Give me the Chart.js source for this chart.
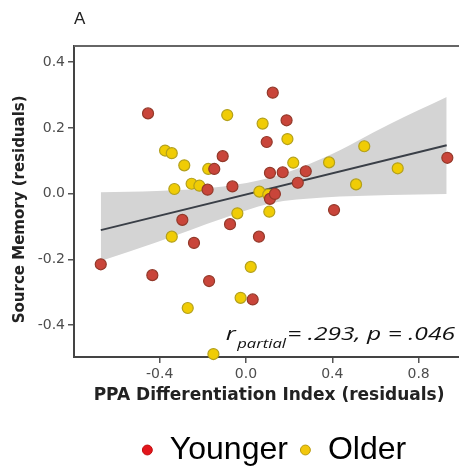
<!DOCTYPE html>
<html>
<head>
<meta charset="utf-8">
<title>Source memory vs PPA differentiation</title>
<script src="https://cdn.jsdelivr.net/npm/chart.js@4"></script>
<style>
  html, body { margin: 0; padding: 0; background: #fff; }
  canvas { display: block; }
</style>
</head>
<body>
<canvas id="chart" width="459" height="470"></canvas>
<script>
// Data (residuals)
const youngerX = [-0.673, -0.454, -0.434, -0.295, -0.241, -0.178, -0.171, -0.147, -0.108, -0.074, -0.063, 0.031,
                  0.060, 0.096, 0.111, 0.111, 0.124, 0.134, 0.170, 0.188, 0.240, 0.277, 0.408, 0.933];
const youngerY = [-0.215, 0.244, -0.248, -0.080, -0.150, 0.012, -0.266, 0.075, 0.114, -0.093, 0.022, -0.322,
                  -0.131, 0.157, 0.063, -0.016, 0.307, -0.001, 0.065, 0.223, 0.033, 0.068, -0.050, 0.109];

const olderX = [-0.375, -0.344, -0.344, -0.332, -0.286, -0.270, -0.252, -0.216, -0.175, -0.151, -0.087, -0.040,
                -0.025, 0.022, 0.062, 0.077, 0.103, 0.108, 0.192, 0.219, 0.385, 0.510, 0.548, 0.703];
const olderY = [0.131, 0.123, -0.131, 0.014, 0.086, -0.348, 0.030, 0.024, 0.075, -0.488, 0.239, -0.060,
                -0.317, -0.223, 0.006, 0.213, -0.003, -0.055, 0.166, 0.094, 0.095, 0.028, 0.144, 0.077];

// regression line and its confidence band
const fitX = [-0.673, 0.930];
const fitY = [-0.111, 0.147];
const bandX = [-0.673, -0.414, -0.105, 0.111, 0.358, 0.667, 0.930];
const bandUpper = [0.004, 0.008, 0.022, 0.048, 0.108, 0.212, 0.294];
const bandLower = [-0.205, -0.148, -0.075, -0.030, -0.012, -0.004, -0.001];

const xTicks = [-0.4, 0.0, 0.4, 0.8];
const yTicks = [-0.4, -0.2, 0.0, 0.2, 0.4];

const groupNames = ['Younger', 'Older'];
const statR = 'r';
const statSub = 'partial';
const statText = '= .293, p = .046';

const toPoints = (xs, ys) => xs.map((x, i) => ({ x: x, y: ys[i] }));

const legendFill = ['#e3151b', '#f2c70c'];
const legendStroke = ['#c01010', '#b89a10'];

// panel frame: line on top, axis runs on to the right edge (no right border)
const panelFrame = {
    id: 'panelFrame',
    afterLayout(chart) {
        // the legend sits a little right of centre in the figure
        chart.legend.left = chart.chartArea.left + 14;
        chart.legend.right = chart.width;
    },
    afterDraw(chart) {
        const { ctx, chartArea } = chart;
        ctx.save();
        ctx.lineWidth = 2;
        ctx.strokeStyle = '#666';
        ctx.beginPath();
        ctx.moveTo(chartArea.left, chartArea.top);
        ctx.lineTo(chart.width, chartArea.top);
        ctx.stroke();
        ctx.strokeStyle = '#444';
        ctx.beginPath();
        ctx.moveTo(chartArea.right, chartArea.bottom);
        ctx.lineTo(chart.width, chartArea.bottom);
        ctx.stroke();
        ctx.restore();
    }
};

// r_partial annotation, bottom right of the plot (text is a bit stretched in the figure)
const statsLabel = {
    id: 'statsLabel',
    afterDraw(chart) {
        const { ctx, chartArea } = chart;
        const sx = 1.33;
        ctx.save();
        ctx.translate(chart.width - 4, chartArea.bottom - 17);
        ctx.scale(sx, 1);
        ctx.fillStyle = '#111';
        ctx.textBaseline = 'alphabetic';
        ctx.textAlign = 'right';
        ctx.font = 'italic 18.5px "Open Sans"';
        ctx.fillText(statText, 0, 0);
        const w = ctx.measureText(statText).width;
        ctx.font = 'italic 12.5px "Open Sans"';
        ctx.fillText(statSub, -w - 1, 8);
        const sw = ctx.measureText(statSub).width;
        ctx.font = 'italic 19px "Open Sans"';
        ctx.fillText(statR, -w - sw - 2, 0);
        ctx.restore();
    }
};

const ctx = document.getElementById('chart').getContext('2d');
new Chart(ctx, {
    type: 'scatter',
    data: {
        datasets: [
            {
                label: groupNames[0],
                data: toPoints(youngerX, youngerY),
                backgroundColor: '#c9453a',
                borderColor: '#93392a',
                borderWidth: 1.2,
                pointRadius: 5.5,
                clip: false
            },
            {
                label: groupNames[1],
                data: toPoints(olderX, olderY),
                backgroundColor: '#f0cc05',
                borderColor: '#b3a01c',
                borderWidth: 1.2,
                pointRadius: 5.5,
                clip: false
            },
            {
                label: 'fit',
                data: toPoints(fitX, fitY),
                showLine: true,
                borderColor: '#3a3f47',
                borderWidth: 2,
                pointRadius: 0
            },
            {
                label: 'upper',
                data: toPoints(bandX, bandUpper),
                showLine: true,
                borderWidth: 0,
                borderColor: 'rgba(0,0,0,0)',
                pointRadius: 0,
                cubicInterpolationMode: 'monotone'
            },
            {
                label: 'lower',
                data: toPoints(bandX, bandLower),
                showLine: true,
                borderWidth: 0,
                borderColor: 'rgba(0,0,0,0)',
                backgroundColor: '#d4d4d4',
                pointRadius: 0,
                cubicInterpolationMode: 'monotone',
                fill: '-1'
            }
        ]
    },
    options: {
        responsive: false,
        animation: false,
        layout: { padding: { left: 0, right: 0, top: 0, bottom: -6 } },
        scales: {
            x: {
                type: 'linear',
                min: -0.797,
                max: 0.956,
                afterBuildTicks: scale => { scale.ticks = xTicks.map(v => ({ value: v })); },
                afterFit: scale => { scale.height = 66; },
                grid: { drawOnChartArea: false, drawTicks: true, tickLength: 6, color: '#555', lineWidth: 1.5 },
                border: { display: true, color: '#444', width: 2 },
                ticks: {
                    color: '#4d4d4d',
                    padding: 3,
                    font: { family: 'DejaVu Sans', size: 14 },
                    callback: v => v.toFixed(1)
                },
                title: {
                    display: true,
                    text: '  PPA Differentiation Index (residuals)',
                    color: '#222',
                    font: { family: 'DejaVu Sans', size: 17, weight: 'bold' },
                    padding: { top: 0, bottom: 17 }
                }
            },
            y: {
                min: -0.497,
                max: 0.449,
                afterBuildTicks: scale => { scale.ticks = yTicks.map(v => ({ value: v })); },
                afterFit: scale => { scale.width = 74; },
                grid: { drawOnChartArea: false, drawTicks: true, tickLength: 6, color: '#555', lineWidth: 1.5 },
                border: { display: true, color: '#444', width: 2 },
                ticks: {
                    color: '#4d4d4d',
                    padding: 3,
                    font: { family: 'DejaVu Sans', size: 14 },
                    callback: v => v.toFixed(1)
                },
                title: {
                    display: true,
                    text: 'Source Memory (residuals)   ',
                    color: '#222',
                    font: { family: 'DejaVu Sans', size: 15, weight: 'bold' },
                    padding: { top: 11, bottom: 0 }
                }
            }
        },
        plugins: {
            title: {
                display: true,
                text: 'A',
                align: 'start',
                fullSize: false,
                color: '#222',
                font: { family: 'Liberation Sans', size: 17, weight: 'normal' },
                padding: { top: 9, bottom: 16.6 }
            },
            legend: {
                position: 'bottom',
                fullSize: false,
                labels: {
                    usePointStyle: true,
                    boxWidth: 13,
                    boxHeight: 7,
                    padding: 11,
                    color: '#1a1a1a',
                    font: { family: 'Liberation Sans', size: 32 },
                    generateLabels: () => groupNames.map((name, i) => ({
                        text: name,
                        fillStyle: legendFill[i],
                        strokeStyle: legendStroke[i],
                        lineWidth: 1,
                        pointStyle: 'circle',
                        datasetIndex: i,
                        hidden: false
                    }))
                }
            },
            tooltip: { enabled: false }
        }
    },
    plugins: [panelFrame, statsLabel]
});
</script>
</body>
</html>
